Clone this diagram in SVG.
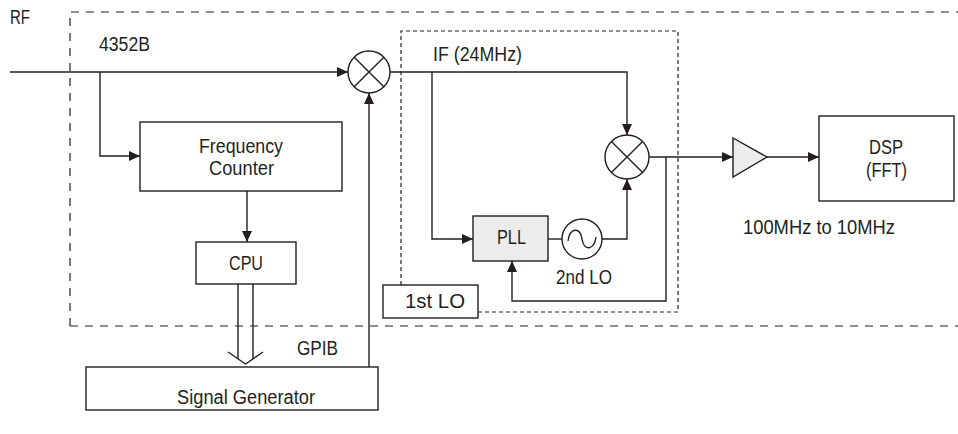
<svg xmlns="http://www.w3.org/2000/svg" width="958" height="434" viewBox="0 0 958 434">
<style>
  .ln{fill:none;stroke:#231f20;stroke-width:1.4}
  .box{fill:#fff;stroke:#231f20;stroke-width:1.4}
  .gbox{fill:#ececec;stroke:#231f20;stroke-width:1.4}
  .dash1{fill:none;stroke:#231f20;stroke-width:1.2;stroke-dasharray:8 7}
  .dash2{fill:none;stroke:#231f20;stroke-width:1.2;stroke-dasharray:4 3}
  text{font-family:"Liberation Sans",Arial,sans-serif;font-size:20px;fill:#231f20}
  .c{text-anchor:middle}
</style>
<defs>
  <marker id="ah" markerUnits="userSpaceOnUse" markerWidth="11" markerHeight="10" refX="11" refY="5" orient="auto">
    <path d="M0,0 L11,5 L0,10 z" fill="#231f20"/>
  </marker>
</defs>
<rect width="958" height="434" fill="#fff"/>
<g id="frames">
  <path class="dash1" d="M70,326 V12 H958 M70,326 H958"/>
  <path class="dash2" d="M401,285 V31 H678 V312 H478"/>
</g>
<g id="labels">
  <text x="10" y="24" textLength="20" lengthAdjust="spacingAndGlyphs">RF</text>
  <text x="99" y="51" textLength="51" lengthAdjust="spacingAndGlyphs">4352B</text>
  <text x="433" y="61" textLength="89" lengthAdjust="spacingAndGlyphs">IF (24MHz)</text>
  <text x="297" y="355" textLength="41" lengthAdjust="spacingAndGlyphs">GPIB</text>
  <text x="556" y="284" textLength="56" lengthAdjust="spacingAndGlyphs">2nd LO</text>
  <text x="743" y="234" textLength="152" lengthAdjust="spacingAndGlyphs">100MHz to 10MHz</text>
</g>
<g id="connectors">
  <path class="ln" d="M10,72 H348" marker-end="url(#ah)"/>
  <path class="ln" d="M100,72 V156 H140" marker-end="url(#ah)"/>
  <path class="ln" d="M247,191 V242" marker-end="url(#ah)"/>
  <path class="ln" d="M238,284 V359 M253,284 V359"/>
  <path class="ln" d="M228,352 L245.5,364 L263,352"/>
  <path class="ln" d="M369,367 V93" marker-end="url(#ah)"/>
  <path class="ln" d="M390,72 H627 V135" marker-end="url(#ah)"/>
  <path class="ln" d="M432,72 V239 H473" marker-end="url(#ah)"/>
  <path class="ln" d="M548,239 H562"/>
  <path class="ln" d="M602,239 H627 V179" marker-end="url(#ah)"/>
  <path class="ln" d="M649,157 H733" marker-end="url(#ah)"/>
  <path class="ln" d="M666,157 V301 H512 V261" marker-end="url(#ah)"/>
  <path class="ln" d="M767,157 H819" marker-end="url(#ah)"/>
</g>
<g id="mixer1">
  <circle class="box" cx="369" cy="72" r="21"/>
  <path class="ln" d="M354.2,57.2 L383.8,86.8 M383.8,57.2 L354.2,86.8"/>
</g>
<g id="mixer2">
  <circle class="box" cx="627" cy="157" r="22"/>
  <path class="ln" d="M611.4,141.4 L642.6,172.6 M642.6,141.4 L611.4,172.6"/>
</g>
<g id="freq-counter">
  <rect class="box" x="140" y="122" width="202" height="69"/>
  <text class="c" x="241" y="153" textLength="84" lengthAdjust="spacingAndGlyphs">Frequency</text>
  <text class="c" x="241.5" y="175" textLength="65" lengthAdjust="spacingAndGlyphs">Counter</text>
</g>
<g id="cpu">
  <rect class="box" x="196" y="242" width="100" height="42"/>
  <text class="c" x="246" y="270" textLength="34" lengthAdjust="spacingAndGlyphs">CPU</text>
</g>
<g id="signal-generator">
  <rect class="box" x="86" y="367" width="292" height="43"/>
  <text class="c" x="246" y="404" textLength="138" lengthAdjust="spacingAndGlyphs">Signal Generator</text>
</g>
<g id="first-lo">
  <rect class="box" x="383" y="285" width="95" height="33"/>
  <text class="c" x="435" y="308" textLength="60" lengthAdjust="spacingAndGlyphs">1st LO</text>
</g>
<g id="pll">
  <rect class="gbox" x="473" y="216" width="75" height="45"/>
  <text class="c" x="511.5" y="244" textLength="29" lengthAdjust="spacingAndGlyphs">PLL</text>
</g>
<g id="second-lo">
  <circle class="box" cx="582" cy="239" r="20"/>
  <path class="ln" d="M568,241 C570,227 580,227 582,239 S594,251 596,237"/>
</g>
<g id="amplifier">
  <path class="gbox" d="M733,138 L767,157 L733,177 Z"/>
</g>
<g id="dsp">
  <rect class="box" x="819" y="116" width="135" height="85"/>
  <text class="c" x="886" y="154" textLength="34" lengthAdjust="spacingAndGlyphs">DSP</text>
  <text class="c" x="886.5" y="177" textLength="41" lengthAdjust="spacingAndGlyphs">(FFT)</text>
</g>
</svg>
